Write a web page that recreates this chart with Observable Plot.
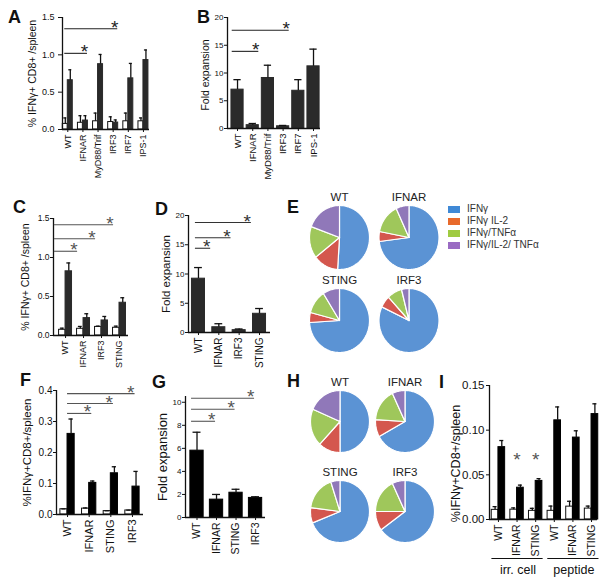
<!DOCTYPE html>
<html><head><meta charset="utf-8">
<script src="https://cdn.jsdelivr.net/npm/d3@7"></script>
<script src="https://cdn.jsdelivr.net/npm/@observablehq/plot@0.6"></script>
<style>
body{margin:0;background:#fff;}
#fig{position:relative;width:610px;height:582px;overflow:hidden;background:#fff;font-family:"Liberation Sans",Arial,Helvetica,sans-serif;color:#111;}
#fig svg{position:absolute;left:0;top:0;}
.lab{position:absolute;font:bold 18px/18px "Liberation Sans",Arial,sans-serif;color:#111;}
.leg{position:absolute;font:10px/12px "Liberation Sans",Arial,sans-serif;color:#333;white-space:nowrap;}
.sw{position:absolute;width:12px;height:7px;}
</style></head><body><div id="fig"></div>
<script>
// ---------- DATA ----------
const catsA = ["WT","IFNAR","MyD88/Trif","IRF3","IRF7","IPS-1"];
const naiveA = [0.075,0.09,0.11,0.10,0.11,0.11];
const naiveErrA = [0.08,0.095,0.11,0.07,0.11,0.045];
const immA = [0.66,0.12,0.875,0.093,0.685,0.93];
const immErrA = [0.14,0.065,0.13,0.035,0.20,0.135];
const sigA = [["WT","IRF3",1.35],["WT","IFNAR",1.02]];

const catsB = ["WT","IFNAR","MyD88/Trif","IRF3","IRF7","IPS-1"];
const foldB = [7.0,0.6,9.1,0.4,6.8,11.2];
const foldErrB = [1.8,0.3,2.3,0.15,2.0,3.1];
const sigB = [["WT","IRF3",17.7],["WT","IFNAR",13.9]];

const catsC = ["WT","IFNAR","IRF3","STING"];
const naiveC = [0.073,0.086,0.11,0.099];
const naiveErrC = [0.021,0.03,0.01,0.021];
const immC = [0.823,0.223,0.193,0.42];
const immErrC = [0.107,0.056,0.051,0.064];
const sigC = [["WT","STING",1.42],["WT","IRF3",1.24],["WT","IFNAR",1.08]];

const catsD = ["WT","IFNAR","IRF3","STING"];
const foldD = [9.2,0.9,0.4,3.2];
const foldErrD = [1.9,0.6,0.2,0.9];
const sigD = [["WT","STING",18.8],["WT","IRF3",16.2],["WT","IFNAR",14.4]];

const catsF = ["WT","IFNAR","STING","IRF3"];
const naiveF = [0.017,0.019,0.011,0.013];
const naiveErrF = [0.001,0.002,0.001,0.001];
const immF = [0.26,0.102,0.133,0.09];
const immErrF = [0.048,0.006,0.021,0.049];
const sigF = [["WT","IRF3",0.39],["WT","STING",0.358],["WT","IFNAR",0.326]];

const catsG = ["WT","IFNAR","STING","IRF3"];
const foldG = [5.8,1.55,2.15,1.7];
const foldErrG = [1.6,0.45,0.3,0.1];
const sigG = [["WT","IRF3",10.35],["WT","STING",9.4],["WT","IFNAR",8.35]];

const catsI = ["WT","IFNAR","STING","WT","IFNAR","STING"];
const naiveI = [0.0108,0.011,0.0097,0.0097,0.0144,0.0122];
const naiveErrI = [0.0036,0.002,0.0028,0.0053,0.006,0.0028];
const immI = [0.081,0.0356,0.0432,0.111,0.0917,0.118];
const immErrI = [0.0074,0.0029,0.0025,0.015,0.0076,0.0115];
const starsI = [[1,0.073],[2,0.073]];
const groupsI = [["irr. cell",0,2],["peptide",3,5]];

const legendLabels = ["IFNγ","IFNγ IL-2","IFNγ/TNFα","IFNγ/IL-2/ TNFα"];
const legendColors = ["#3f89d6","#e86a2c","#9fcb41","#9a6bc3"];
const pieColors = ["#5b93d4","#d4574e","#9fc75b","#9078b9"];
const pieNames = ["WT","IFNAR","STING","IRF3"];
const pieE = [[0.51,0.135,0.16,0.195],[0.73,0.05,0.15,0.07],[0.74,0.05,0.12,0.09],[0.82,0.06,0.08,0.04]];
const pieH = [[0.50,0.12,0.195,0.185],[0.67,0.09,0.17,0.07],[0.69,0.08,0.18,0.05],[0.65,0.10,0.18,0.07]];

// ---------- LAYOUT ----------
const W = 610, H = 582;
const fig = document.getElementById("fig");
const FONT = "Liberation Sans, Arial, Helvetica, sans-serif";
const style = {background:"transparent", fontFamily: FONT, color:"#111", overflow:"visible"};
function frame(l, r, t, b){ return {width:W, height:H, marginLeft:l, marginRight:W-r, marginTop:t, marginBottom:H-b}; }

function barPanel(o){
  const n = o.cats.length, idx = d3.range(n);
  const pos = c => o.cats.indexOf(c);
  const white = o.naive ? idx.map(i => ({x1:i-o.bw, x2:i, v:o.naive[i], e:o.naiveErr[i]})) : [];
  const dark = idx.map(i => o.naive ? {x1:i, x2:i+o.bw, v:o.imm[i], e:o.immErr[i]} : {x1:i-o.bw, x2:i+o.bw, v:o.imm[i], e:o.immErr[i]});
  const all = white.concat(dark);
  const mid = d => (d.x1+d.x2)/2;
  const marks = [
    Plot.rect(white, {x1:"x1", x2:"x2", y1:0, y2:"v", fill:"white", stroke:"#111", strokeWidth:1}),
    Plot.rect(dark, {x1:"x1", x2:"x2", y1:0, y2:"v", fill:o.fill, stroke:o.fill, strokeWidth:1}),
    Plot.ruleX(all, {x:mid, y1:"v", y2:d=>d.v+d.e, stroke:"#111", strokeWidth:1.3}),
    Plot.ruleY(all, {x1:d=>mid(d)-(d.x2-d.x1)*0.3, x2:d=>mid(d)+(d.x2-d.x1)*0.3, y:d=>d.v+d.e, stroke:"#111", strokeWidth:1.3}),
    Plot.ruleY([0], {stroke:"#111", strokeWidth:1.3}),
    Plot.ruleX([o.xDomain[0]], {stroke:"#111", strokeWidth:1.3}),
    Plot.axisY({ticks:o.yTicks, tickFormat:o.fmt, tickSize:o.yTickSize ?? 3, tickPadding:o.yPad ?? 1, fontSize:o.yFont, label:null}),
    Plot.axisX({ticks:idx, tickFormat:i=>o.cats[i], tickRotate:-90, tickSize:3, tickPadding:2, fontSize:o.xFont, label:null}),
    Plot.text([o.title], {frameAnchor:"left", textAnchor:"middle", lineAnchor:"middle", rotate:-90, dx:o.titleDx, dy:o.titleDy ?? 0, fontSize:o.titleFont})
  ];
  if (o.sig) {
    marks.push(Plot.ruleY(o.sig, {x1:d=>pos(d[0])+o.sigStart, x2:d=>pos(d[1])+o.sigEnd, y:d=>d[2], stroke:o.sigColor, strokeWidth:1.1}));
    marks.push(Plot.text(o.sig, {x:d=>pos(d[1])+o.sigEnd-0.2, y:d=>d[2], text:()=>"*", fontSize:19, lineAnchor:"bottom", dy:5, fill:o.sigColor}));
  }
  if (o.extra) marks.push(...o.extra);
  return Plot.plot({...frame(o.l, o.r, o.t, o.b), x:{domain:o.xDomain}, y:{domain:o.yDomain}, style, marks});
}

const f1 = d3.format(".1f"), f0 = d3.format("d"), f2 = d3.format(".2f");

const panels = [
  barPanel({cats:catsA, naive:naiveA, naiveErr:naiveErrA, imm:immA, immErr:immErrA, bw:0.33, fill:"#2a2a2a",
    l:62, r:149, t:17, b:129, xDomain:[-0.35,5.4], yDomain:[0,1.5], yTicks:[0,0.5,1,1.5], fmt:f1,
    yTickSize:4, yPad:4, yFont:9, xFont:9, title:"% IFNγ+ CD8+ /spleen", titleDx:-30, titleFont:10.5,
    sig:sigA, sigStart:-0.2, sigEnd:0.3, sigColor:"#222"}),
  barPanel({cats:catsB, imm:foldB, immErr:foldErrB, bw:0.4, fill:"#2a2a2a",
    l:227, r:320, t:17, b:128, xDomain:[-0.66,5.46], yDomain:[0,20], yTicks:[0,5,10,15,20], fmt:f0,
    yTickSize:3, yPad:1, yFont:8, xFont:9.5, title:"Fold expansion", titleDx:-22, titleDy:2, titleFont:10.5,
    sig:sigB, sigStart:-0.35, sigEnd:0.4, sigColor:"#222"}),
  barPanel({cats:catsC, naive:naiveC, naiveErr:naiveErrC, imm:immC, immErr:immErrC, bw:0.36, fill:"#2a2a2a",
    l:53, r:128, t:218, b:335, xDomain:[-0.67,3.5], yDomain:[0,1.5], yTicks:[0,0.5,1,1.5], fmt:f1,
    yTickSize:3, yPad:1, yFont:8.5, xFont:9, title:"% IFNγ+ CD8+ /spleen", titleDx:-28, titleFont:10.5,
    sig:sigC, sigStart:-0.62, sigEnd:-0.33, sigColor:"#555"}),
  barPanel({cats:catsD, imm:foldD, immErr:foldErrD, bw:0.32, fill:"#2a2a2a",
    l:188, r:270, t:215, b:332, xDomain:[-0.49,3.54], yDomain:[0,20], yTicks:[0,5,10,15,20], fmt:f0,
    yTickSize:3, yPad:1, yFont:8, xFont:10, title:"Fold expansion", titleDx:-22, titleFont:11.5,
    sig:sigD, sigStart:-0.15, sigEnd:-0.4, sigColor:"#333"}),
  barPanel({cats:catsF, naive:naiveF, naiveErr:naiveErrF, imm:immF, immErr:immErrF, bw:0.33, fill:"#000",
    l:56, r:143, t:390, b:514, xDomain:[-0.51,3.51], yDomain:[0,0.4], yTicks:[0,0.1,0.2,0.3,0.4], fmt:f1,
    yTickSize:3, yPad:1, yFont:10, xFont:11, title:"%IFNγ+CD8+/spleen", titleDx:-29, titleFont:11.5,
    sig:sigF, sigStart:0, sigEnd:0.12, sigColor:"#555"}),
  barPanel({cats:catsG, imm:foldG, immErr:foldErrG, bw:0.34, fill:"#000",
    l:185, r:265, t:396, b:517, xDomain:[-0.59,3.51], yDomain:[0,10.5], yTicks:[0,2,4,6,8,10], fmt:f0,
    yTickSize:3, yPad:1, yFont:8, xFont:10.5, title:"Fold expansion", titleDx:-23, titleFont:13,
    sig:sigG, sigStart:-0.28, sigEnd:-0.05, sigColor:"#555"}),
  barPanel({cats:catsI, naive:naiveI, naiveErr:naiveErrI, imm:immI, immErr:immErrI, bw:0.36, fill:"#000",
    l:489, r:597, t:385, b:519, xDomain:[-0.48,5.32], yDomain:[0,0.15], yTicks:[0,0.05,0.1,0.15], fmt:f2,
    yTickSize:3, yPad:2, yFont:11.5, xFont:10.5, title:"%IFNγ+CD8+/spleen", titleDx:-34, titleDy:11, titleFont:12.5,
    extra:[
      Plot.text(starsI, {x:d=>d[0], y:d=>d[1], text:()=>"*", fontSize:19, fill:"#555", lineAnchor:"middle", dy:6}),
      Plot.ruleY(groupsI, {x1:d=>d[1]-0.35, x2:d=>d[2]+0.4, y:0, dy:39, stroke:"#111", strokeWidth:1}),
      Plot.text(groupsI, {x:d=>(d[1]+d[2])/2+0.05, y:0, text:d=>d[0], dy:50, fontSize:12.5, lineAnchor:"middle"})
    ]})
];
panels.forEach(p => fig.appendChild(p));

// ---------- PIES ----------
function wedge(fr, k){
  const tot = d3.sum(fr);
  const a0 = d3.sum(fr.slice(0,k))/tot*2*Math.PI, a1 = a0 + fr[k]/tot*2*Math.PI;
  const steps = Math.max(2, Math.ceil((a1-a0)/(Math.PI/120)));
  const pts = [{x:0,y:0}];
  for (let s=0; s<=steps; s++){ const a = a0+(a1-a0)*s/steps; pts.push({x:Math.sin(a), y:Math.cos(a)}); }
  pts.push({x:0,y:0});
  return pts;
}
function piePlot(name, fr, cx, cy, rx, ry){
  const marks = pieColors.map((c,k) => Plot.line(wedge(fr,k), {x:"x", y:"y", fill:c, stroke:"white", strokeWidth:1.2, curve:"linear"}));
  marks.push(Plot.text([name], {frameAnchor:"top", dy:-5, lineAnchor:"bottom", fontSize:11.5, fill:"#222"}));
  return Plot.plot({...frame(cx-rx, cx+rx, cy-ry, cy+ry), x:{domain:[-1,1], axis:null}, y:{domain:[-1,1], axis:null}, style, marks});
}
const centersE = [[339,237],[408.5,237],[339,320],[408.5,320]];
const centersH = [[339.5,421],[404.5,421],[339.5,511],[404.5,511]];
pieNames.forEach((nm,i) => fig.appendChild(piePlot(nm, pieE[i], centersE[i][0], centersE[i][1], 30, 32)));
pieNames.forEach((nm,i) => fig.appendChild(piePlot(nm, pieH[i], centersH[i][0], centersH[i][1], 29.5, 31)));

// ---------- LEGEND (panel E) ----------
legendLabels.forEach((t,i) => {
  const sw = document.createElement("div"); sw.className="sw";
  sw.style.left="448px"; sw.style.top=(205.5+i*12)+"px"; sw.style.background=legendColors[i];
  fig.appendChild(sw);
  const tx = document.createElement("div"); tx.className="leg";
  tx.style.left="467px"; tx.style.top=(203+i*12)+"px"; tx.textContent=t;
  fig.appendChild(tx);
});

// ---------- PANEL LETTERS ----------
const letters = [["A",8,23],["B",197,23],["C",13,213],["D",155,215],["E",287,213],["F",20,386],["G",152,388],["H",287,387],["I",439,388]];
letters.forEach(([t,x,base]) => {
  const d = document.createElement("div"); d.className="lab"; d.textContent=t;
  d.style.left=x+"px"; d.style.top=(base-15.3)+"px"; fig.appendChild(d);
});
</script></body></html>
